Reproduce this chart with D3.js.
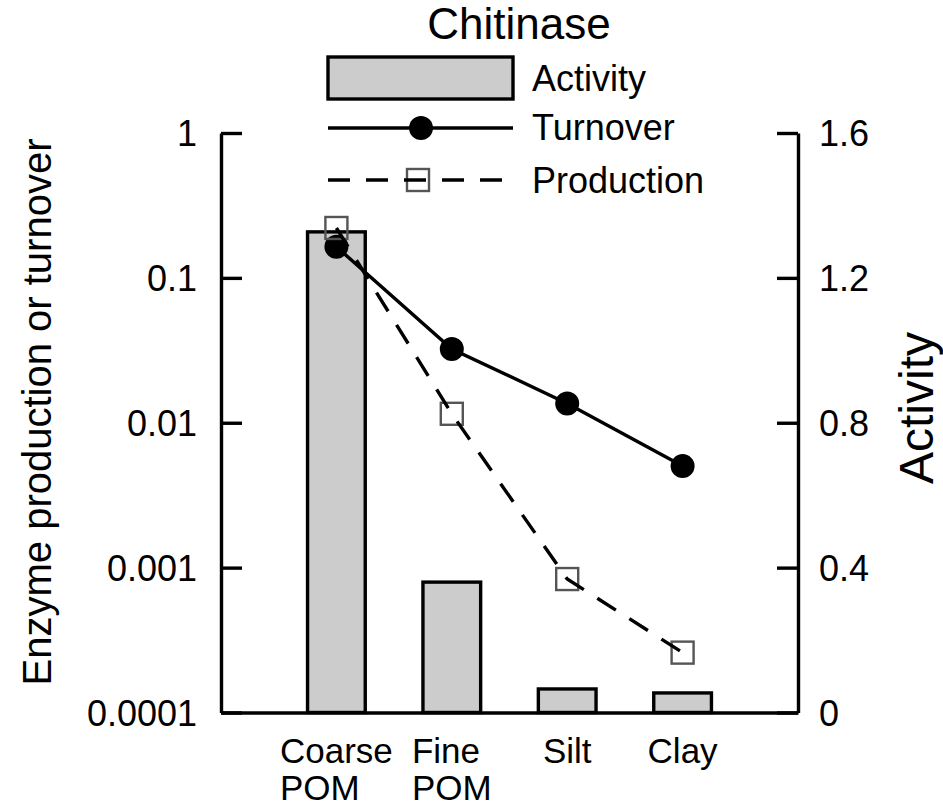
<!DOCTYPE html>
<html>
<head>
<meta charset="utf-8">
<script src="https://cdnjs.cloudflare.com/ajax/libs/d3/7.8.5/d3.min.js"></script>
<style>
  body { margin: 0; background: #fff; }
  svg text { font-family: "Liberation Sans", Arial, sans-serif; fill: #000; }
</style>
</head>
<body>
<div id="chart"></div>
<script>
var svgWidth = 943;
var svgHeight = 808;

var margin = { top: 133, right: 145, bottom: 95.5, left: 221 };
var width = svgWidth - margin.left - margin.right;
var height = svgHeight - margin.top - margin.bottom;

// data
var categories = ["Coarse\nPOM", "Fine\nPOM", "Silt", "Clay"];
var activity = [1.327, 0.360, 0.065, 0.054];
var turnover = [0.164, 0.0323, 0.0136, 0.00502];
var production = [0.221, 0.01153, 0.000834, 0.000259];
var leftTicks = [0.0001, 0.001, 0.01, 0.1, 1];
var leftTickLabels = ["0.0001", "0.001", "0.01", "0.1", "1"];
var rightTicks = [0, 0.4, 0.8, 1.2, 1.6];
var rightTickLabels = ["0", "0.4", "0.8", "1.2", "1.6"];

var svg = d3.select("#chart")
  .append("svg")
  .attr("width", svgWidth)
  .attr("height", svgHeight);

var chartGroup = svg.append("g")
  .attr("transform", `translate(${margin.left}, ${margin.top})`);

// scales
var xScale = d3.scalePoint()
  .domain(categories)
  .range([0, width])
  .padding(1);

var yLog = d3.scaleLog()
  .domain([0.0001, 1])
  .range([height, 0]);

var yLin = d3.scaleLinear()
  .domain([0, 1.6])
  .range([height, 0]);

var barWidth = xScale.step() * 0.5;
var lw = 3.4;

// bars (Activity, right axis)
chartGroup.selectAll("rect.bar")
  .data(activity)
  .enter()
  .append("rect")
  .attr("class", "bar")
  .attr("x", (d, i) => xScale(categories[i]) - barWidth / 2)
  .attr("y", d => yLin(d))
  .attr("width", barWidth)
  .attr("height", d => height - yLin(d))
  .attr("fill", "#cccccc")
  .attr("stroke", "#000")
  .attr("stroke-width", lw);

// axes
var leftAxis = d3.axisLeft(yLog)
  .tickValues(leftTicks)
  .tickFormat((d, i) => leftTickLabels[i])
  .tickSizeInner(-21)
  .tickSizeOuter(0)
  .tickPadding(24);

var rightAxis = d3.axisRight(yLin)
  .tickValues(rightTicks)
  .tickFormat((d, i) => rightTickLabels[i])
  .tickSizeInner(-21)
  .tickSizeOuter(0)
  .tickPadding(21);

var bottomAxis = d3.axisBottom(xScale)
  .tickValues([])
  .tickSizeOuter(0);

function styleAxis(g) {
  g.selectAll("path, line").attr("stroke", "#000").attr("stroke-width", lw);
  g.selectAll("text")
    .attr("font-size", 36)
    .attr("font-family", "Liberation Sans, Arial, sans-serif")
    .attr("dy", "0.36em");
}

chartGroup.append("g")
  .attr("transform", `translate(0, ${height})`)
  .call(bottomAxis)
  .call(styleAxis);

chartGroup.append("g")
  .call(leftAxis)
  .call(styleAxis);

chartGroup.append("g")
  .attr("transform", `translate(${width}, 0)`)
  .call(rightAxis)
  .call(styleAxis);

// category labels: left-aligned block centred on each position
categories.forEach(function(cat, i) {
  var lines = cat.split("\n");
  var t = chartGroup.append("text")
    .attr("font-size", 35)
    .attr("y", height + 50);
  lines.forEach(function(line, j) {
    t.append("tspan")
      .attr("dy", j === 0 ? 0 : 37)
      .attr("x", 0)
      .text(line);
  });
  var maxW = 0;
  t.selectAll("tspan").each(function() {
    maxW = Math.max(maxW, this.getComputedTextLength());
  });
  t.selectAll("tspan").attr("x", xScale(cat) - maxW / 2);
});

// turnover line + circles
var turnLine = d3.line()
  .x((d, i) => xScale(categories[i]))
  .y(d => yLog(d));

chartGroup.append("path")
  .datum(turnover)
  .attr("d", turnLine)
  .attr("fill", "none")
  .attr("stroke", "#000")
  .attr("stroke-width", lw);

chartGroup.selectAll("circle.turn")
  .data(turnover)
  .enter()
  .append("circle")
  .attr("class", "turn")
  .attr("cx", (d, i) => xScale(categories[i]))
  .attr("cy", d => yLog(d))
  .attr("r", 12)
  .attr("fill", "#000");

// production squares + dashed line
var sq = 22;
chartGroup.selectAll("rect.prod")
  .data(production)
  .enter()
  .append("rect")
  .attr("class", "prod")
  .attr("x", (d, i) => xScale(categories[i]) - sq / 2)
  .attr("y", d => yLog(d) - sq / 2)
  .attr("width", sq)
  .attr("height", sq)
  .attr("fill", "none")
  .attr("stroke", "#555")
  .attr("stroke-width", 2.4);

chartGroup.append("path")
  .datum(production)
  .attr("d", turnLine)
  .attr("fill", "none")
  .attr("stroke", "#000")
  .attr("stroke-width", lw)
  .attr("stroke-dasharray", "22,16");

// title
svg.append("text")
  .attr("x", 519)
  .attr("y", 39)
  .attr("text-anchor", "middle")
  .attr("font-size", 44)
  .text("Chitinase");

// legend
var legend = svg.append("g");
legend.append("rect")
  .attr("x", 328).attr("y", 57)
  .attr("width", 185).attr("height", 42)
  .attr("fill", "#cccccc")
  .attr("stroke", "#000")
  .attr("stroke-width", lw);
legend.append("line")
  .attr("x1", 328).attr("x2", 513)
  .attr("y1", 128).attr("y2", 128)
  .attr("stroke", "#000").attr("stroke-width", lw);
legend.append("circle")
  .attr("cx", 421).attr("cy", 128).attr("r", 12)
  .attr("fill", "#000");
legend.append("rect")
  .attr("x", 418 - sq / 2).attr("y", 180 - sq / 2)
  .attr("width", sq).attr("height", sq)
  .attr("fill", "none").attr("stroke", "#555").attr("stroke-width", 2.4);
legend.append("line")
  .attr("x1", 328).attr("x2", 513)
  .attr("y1", 180).attr("y2", 180)
  .attr("stroke", "#000").attr("stroke-width", lw)
  .attr("stroke-dasharray", "22,16");

var legendLabels = ["Activity", "Turnover", "Production"];
var legendY = [91, 140, 193];
legend.selectAll("text")
  .data(legendLabels)
  .enter()
  .append("text")
  .attr("x", 532)
  .attr("y", (d, i) => legendY[i])
  .attr("font-size", 36)
  .text(d => d);

// axis titles
svg.append("text")
  .attr("transform", "translate(51, 412) rotate(-90)")
  .attr("text-anchor", "middle")
  .attr("font-size", 40)
  .text("Enzyme production or turnover");

svg.append("text")
  .attr("transform", "translate(933, 408) rotate(-90)")
  .attr("text-anchor", "middle")
  .attr("font-size", 48)
  .text("Activity");
</script>
</body>
</html>
